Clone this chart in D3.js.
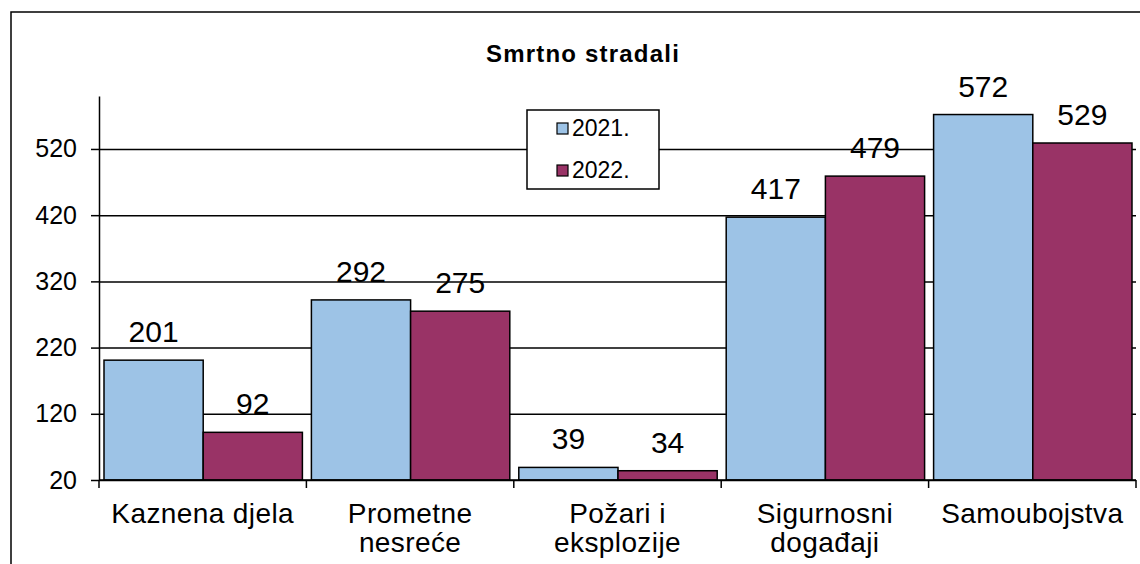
<!DOCTYPE html>
<html>
<head>
<meta charset="utf-8">
<script src="https://cdn.jsdelivr.net/npm/d3@7"></script>
<style>
  body { margin: 0; background: #fff; }
  svg text { font-family: "Liberation Sans", Arial, sans-serif; fill: #000; }
</style>
</head>
<body>
<svg id="chart" width="1140" height="564"></svg>
<script>
var categories = [["Kaznena djela"], ["Prometne", "nesreće"], ["Požari i", "eksplozije"], ["Sigurnosni", "događaji"], ["Samoubojstva"]];
var seriesNames = ["2021.", "2022."];
var values2021 = [201, 292, 39, 417, 572];
var values2022 = [92, 275, 34, 479, 529];
var yTicks = [20, 120, 220, 320, 420, 520];
var colors = ["#9DC3E6", "#993366"];

var svg = d3.select("#chart");
var plotLeft = 99, plotRight = 1136, plotTop = 96, plotBottom = 480;

// outer frame (cropped at right/bottom like the picture)
svg.append("rect")
  .attr("x", 11).attr("y", 12)
  .attr("width", 1160).attr("height", 600)
  .attr("fill", "none").attr("stroke", "#000").attr("stroke-width", 1.5);

svg.append("text")
  .attr("x", 583).attr("y", 62)
  .attr("text-anchor", "middle")
  .style("font-size", "24px").style("font-weight", "bold")
  .style("letter-spacing", "1.2px")
  .text("Smrtno stradali");

var keys = categories.map(function(d){ return d.join(" "); });
var x0 = d3.scaleBand().domain(keys).range([plotLeft, plotRight]).padding(0);
var x1 = d3.scaleBand().domain(seriesNames).range([5, x0.bandwidth() - 4]).padding(0);
var y = d3.scaleLinear().domain([20, 600]).range([plotBottom, plotTop]);

// gridlines
svg.append("g")
  .attr("transform", "translate(" + plotLeft + ",0)")
  .call(d3.axisLeft(y).tickValues(yTicks).tickSize(-(plotRight - plotLeft)).tickFormat(""))
  .call(function(g){ g.select(".domain").remove(); })
  .selectAll("line").attr("stroke", "#000").attr("stroke-width", 1.5);

// bars
var rows = keys.map(function(k, i){ return {key: k, vals: [values2021[i], values2022[i]]}; });
var groups = svg.append("g").selectAll("g")
  .data(rows)
  .enter()
  .append("g")
    .attr("transform", function(d){ return "translate(" + x0(d.key) + ",0)"; });

groups.selectAll("rect")
  .data(function(d){ return d.vals.map(function(v, j){ return {s: seriesNames[j], v: v, j: j}; }); })
  .enter()
  .append("rect")
    .attr("x", function(d){ return x1(d.s); })
    .attr("y", function(d){ return y(d.v); })
    .attr("width", x1.bandwidth())
    .attr("height", function(d){ return y(20) - y(d.v); })
    .attr("fill", function(d){ return colors[d.j]; })
    .attr("stroke", "#000").attr("stroke-width", 1.5);

groups.selectAll("text")
  .data(function(d){ return d.vals.map(function(v, j){ return {s: seriesNames[j], v: v}; }); })
  .enter()
  .append("text")
    .attr("x", function(d){ return x1(d.s) + x1.bandwidth() / 2; })
    .attr("y", function(d){ return y(d.v) - 18; })
    .attr("text-anchor", "middle")
    .style("font-size", "30px")
    .text(function(d){ return d.v; });

// y axis
var yAxis = svg.append("g")
  .attr("transform", "translate(" + plotLeft + ",0)")
  .call(d3.axisLeft(y).tickValues(yTicks).tickSize(8).tickPadding(14).tickSizeOuter(0));
yAxis.selectAll("line, path").attr("stroke", "#000").attr("stroke-width", 1.5);
yAxis.selectAll("text").style("font-size", "25px").style("font-family", "Liberation Sans, Arial, sans-serif");

// x axis
svg.append("line")
  .attr("x1", plotLeft).attr("x2", plotRight).attr("y1", plotBottom).attr("y2", plotBottom)
  .attr("stroke", "#000").attr("stroke-width", 1.5);
var bounds = keys.map(function(k){ return x0(k); }).concat([plotRight]);
svg.append("g").selectAll("line")
  .data(bounds)
  .enter()
  .append("line")
    .attr("x1", function(d){ return d; }).attr("x2", function(d){ return d; })
    .attr("y1", plotBottom).attr("y2", plotBottom + 8)
    .attr("stroke", "#000").attr("stroke-width", 1.5);

var catLabels = svg.append("g").selectAll("text")
  .data(categories)
  .enter()
  .append("text")
    .attr("text-anchor", "middle")
    .style("font-size", "28px")
    .style("letter-spacing", "0.4px")
    .attr("transform", function(d, i){ return "translate(" + (x0(keys[i]) + x0.bandwidth() / 2) + ",0)"; });
catLabels.selectAll("tspan")
  .data(function(d){ return d; })
  .enter()
  .append("tspan")
    .attr("x", 0)
    .attr("y", function(d, i){ return 523 + i * 29; })
    .text(function(d){ return d; });

// legend
var legend = svg.append("g").attr("transform", "translate(527,110)");
legend.append("rect")
  .attr("width", 132).attr("height", 79)
  .attr("fill", "#fff").attr("stroke", "#000").attr("stroke-width", 1.5);
var items = legend.selectAll("g.item")
  .data(seriesNames)
  .enter()
  .append("g")
    .attr("class", "item")
    .attr("transform", function(d, i){ return "translate(30," + (13 + i * 42) + ")"; });
items.append("rect")
  .attr("width", 11).attr("height", 11)
  .attr("fill", function(d, i){ return colors[i]; })
  .attr("stroke", "#000").attr("stroke-width", 1.2);
items.append("text")
  .attr("x", 15).attr("y", 13)
  .style("font-size", "23px")
  .text(function(d){ return d; });
</script>
</body>
</html>
